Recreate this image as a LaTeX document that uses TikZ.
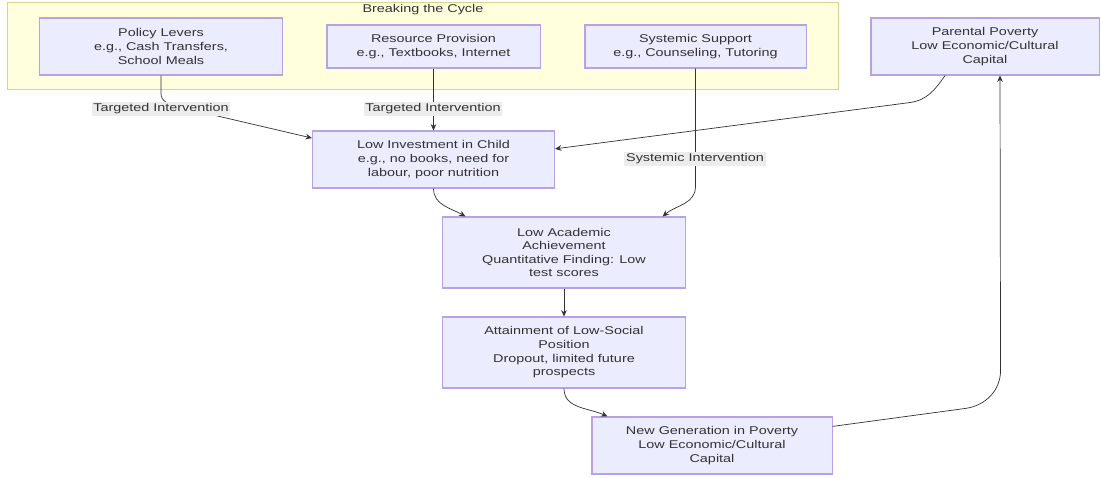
\documentclass[tikz,border=0pt]{standalone}
\usepackage{fontspec}
\setmainfont{Liberation Sans}[FakeStretch=1.28]
\usepackage{tikz}
\usetikzlibrary{arrows.meta,positioning}
\definecolor{boxfill}{HTML}{ECECFF}
\definecolor{boxline}{HTML}{B7A3E3}
\definecolor{groupfill}{HTML}{FFFFDE}
\definecolor{groupline}{HTML}{D6D68A}
\definecolor{inkgray}{HTML}{333333}
\definecolor{tagfill}{HTML}{ECECEC}

\begin{document}
\begin{tikzpicture}[
    x=0.025cm, y=0.025cm,
    >={Stealth[length=4.5pt,width=4pt]},
    every node/.style={font=\fontsize{8}{9.7}\selectfont, text=inkgray},
    box/.style={rectangle, draw=boxline, fill=boxfill, line width=0.75pt, align=center, inner sep=2pt},
    group/.style={rectangle, draw=groupline, fill=groupfill, line width=0.6pt},
    link/.style={->, draw=inkgray, line width=0.5pt},
    tag/.style={fill=tagfill, inner sep=1.2pt}
]
    \useasboundingbox[fill=white] (0,0) rectangle (1101,-478);

    \node[group, minimum width=20.75cm, minimum height=2.175cm] (cycle) at (423,-45.5) {};
    \node[anchor=north, inner sep=2pt] (cyclename) at (cycle.north) {Breaking the Cycle};

    \node[box, minimum width=6.05cm, minimum height=1.425cm] (policy) at (161,-46.5) {Policy Levers\\e.g., Cash Transfers,\\School Meals};
    \node[box, minimum width=5.325cm, minimum height=1.075cm] (resource) at (433.5,-46.5) {Resource Provision\\e.g., Textbooks, Internet};
    \node[box, minimum width=5.525cm, minimum height=1.075cm] (systemic) at (695.5,-46.5) {Systemic Support\\e.g., Counseling, Tutoring};
    \node[box, minimum width=5.7cm, minimum height=1.425cm] (parental) at (985,-46.5) {Parental Poverty\\Low Economic/Cultural\\Capital};

    \node[box, minimum width=6.05cm, minimum height=1.425cm] (lowinv) at (433.5,-159.5) {Low Investment in Child\\e.g., no books, need for\\labour, poor nutrition};
    \node[box, minimum width=6.05cm, minimum height=1.775cm] (lowacad) at (564,-252.5) {Low Academic\\Achievement\\Quantitative Finding: Low\\test scores};
    \node[box, minimum width=6.05cm, minimum height=1.775cm] (attain) at (564,-352.5) {Attainment of Low-Social\\Position\\Dropout, limited future\\prospects};
    \node[box, minimum width=6.0cm, minimum height=1.425cm] (newgen) at (712,-445.5) {New Generation in Poverty\\Low Economic/Cultural\\Capital};

    \draw[link] (policy.south) -- ++(0,-18) to[out=-90,in=165] ++(16,-13) -- (lowinv.170);
    \draw[link] (resource.south) -- (resource.south |- lowinv.north);
    \draw[link] (systemic.south) -- ++(0,-118) to[out=-90,in=40] ([xshift=-0.575cm]lowacad.north east);
    \draw[link] (parental.216) to[out=-125,in=8] ++(-35,-27) -- (lowinv.5);
    \draw[link] (lowinv.south) to[out=-90,in=150] ([xshift=0.575cm]lowacad.north west);
    \draw[link] (lowacad.south) -- (attain.north);
    \draw[link] (attain.south) to[out=-90,in=155] ([xshift=0.4cm]newgen.north west);
    \draw[link] (newgen.9) -- ++(133,18) to[out=8,in=-90] ++(35,38) -- ([xshift=0.375cm]parental.south);

    \node[tag] (tagpolicy) at (161,-109) {Targeted Intervention};
    \node[tag] (tagresource) at (433,-109) {Targeted Intervention};
    \node[tag] (tagsystemic) at (695,-159) {Systemic Intervention};
\end{tikzpicture}
\end{document}
